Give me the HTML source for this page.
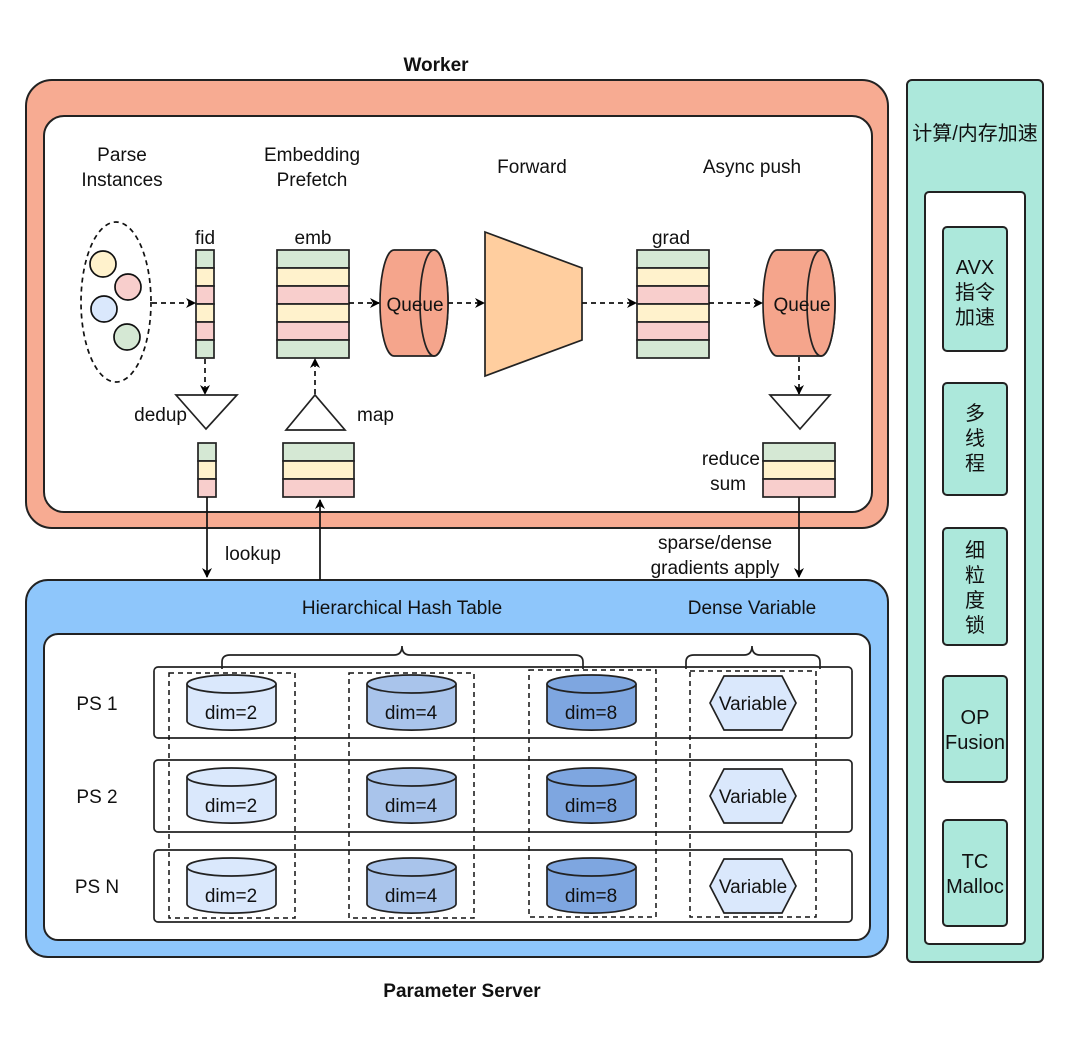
<!DOCTYPE html>
<html><head><meta charset="utf-8"><style>
html,body{margin:0;padding:0;background:#fff;}
svg{display:block;font-family:"Liberation Sans","Noto Sans CJK SC",sans-serif;}
text{font-size:19px;fill:#111;}
</style></head><body>
<svg width="1080" height="1045" viewBox="0 0 1080 1045" xmlns="http://www.w3.org/2000/svg">
<defs>
<marker id="ah" viewBox="0 0 10 10" refX="9" refY="5" markerWidth="10" markerHeight="10" markerUnits="userSpaceOnUse" orient="auto-start-reverse"><path d="M0,0 L10,5 L0,10 L3,5 z" fill="#000"/></marker>
</defs>
<text x="436" y="71" text-anchor="middle" font-weight="bold">Worker</text>
<rect x="26" y="80" width="862" height="448" rx="26" fill="#F7AB92" stroke="#222" stroke-width="2"/>
<rect x="44" y="116" width="828" height="396" rx="20" fill="#fff" stroke="#222" stroke-width="2"/>
<text x="122" y="161" text-anchor="middle">Parse</text>
<text x="122" y="186" text-anchor="middle">Instances</text>
<text x="312" y="161" text-anchor="middle">Embedding</text>
<text x="312" y="186" text-anchor="middle">Prefetch</text>
<text x="532" y="173" text-anchor="middle">Forward</text>
<text x="752" y="173" text-anchor="middle">Async push</text>

<ellipse cx="116" cy="302" rx="35" ry="80" fill="none" stroke="#111" stroke-width="1.7" stroke-dasharray="5,4"/>
<circle cx="103" cy="264" r="13" fill="#FFF2CC" stroke="#111" stroke-width="1.7"/>
<circle cx="128" cy="287" r="13" fill="#F8CECC" stroke="#111" stroke-width="1.7"/>
<circle cx="104" cy="309" r="13" fill="#DAE8FC" stroke="#111" stroke-width="1.7"/>
<circle cx="127" cy="337" r="13" fill="#D5E8D4" stroke="#111" stroke-width="1.7"/>

<text x="205" y="244" text-anchor="middle">fid</text>
<g stroke="#222" stroke-width="1.7">
<rect x="196" y="250" width="18" height="18" fill="#D5E8D4"/><rect x="196" y="268" width="18" height="18" fill="#FFF2CC"/><rect x="196" y="286" width="18" height="18" fill="#F8CECC"/><rect x="196" y="304" width="18" height="18" fill="#FFF2CC"/><rect x="196" y="322" width="18" height="18" fill="#F8CECC"/><rect x="196" y="340" width="18" height="18" fill="#D5E8D4"/>
</g>
<text x="313" y="244" text-anchor="middle">emb</text>
<g stroke="#222" stroke-width="1.7">
<rect x="277" y="250" width="72" height="18" fill="#D5E8D4"/><rect x="277" y="268" width="72" height="18" fill="#FFF2CC"/><rect x="277" y="286" width="72" height="18" fill="#F8CECC"/><rect x="277" y="304" width="72" height="18" fill="#FFF2CC"/><rect x="277" y="322" width="72" height="18" fill="#F8CECC"/><rect x="277" y="340" width="72" height="18" fill="#D5E8D4"/>
</g>
<text x="671" y="244" text-anchor="middle">grad</text>
<g stroke="#222" stroke-width="1.7">
<rect x="637" y="250" width="72" height="18" fill="#D5E8D4"/><rect x="637" y="268" width="72" height="18" fill="#FFF2CC"/><rect x="637" y="286" width="72" height="18" fill="#F8CECC"/><rect x="637" y="304" width="72" height="18" fill="#FFF2CC"/><rect x="637" y="322" width="72" height="18" fill="#F8CECC"/><rect x="637" y="340" width="72" height="18" fill="#D5E8D4"/>
</g>
<g stroke="#222" stroke-width="1.7" fill="#F5A58C">
<path d="M394,250 L434,250 A14,53 0 0 1 434,356 L394,356 A14,53 0 0 1 394,250 z"/>
<ellipse cx="434" cy="303" rx="14" ry="53"/>
<path d="M777,250 L821,250 A14,53 0 0 1 821,356 L777,356 A14,53 0 0 1 777,250 z"/>
<ellipse cx="821" cy="303" rx="14" ry="53"/>
</g>
<text x="415" y="311" text-anchor="middle">Queue</text>
<text x="802" y="311" text-anchor="middle">Queue</text>
<polygon points="485,232 582,268 582,340 485,376" fill="#FFCE9F" stroke="#222" stroke-width="1.7"/>
<g stroke="#111" stroke-width="1.7" stroke-dasharray="5,4" fill="none" marker-end="url(#ah)">
<line x1="152" y1="303" x2="195" y2="303"/>
<line x1="349" y1="303" x2="379" y2="303"/>
<line x1="448" y1="303" x2="484" y2="303"/>
<line x1="582" y1="303" x2="636" y2="303"/>
<line x1="709" y1="303" x2="762" y2="303"/>
<line x1="205" y1="359" x2="205" y2="394"/>
<line x1="315" y1="394" x2="315" y2="359"/>
<line x1="799" y1="357" x2="799" y2="394"/>
</g>
<g fill="#fff" stroke="#222" stroke-width="1.7">
<polygon points="176,395 237,395 206,429"/>
<polygon points="286,430 345,430 315,395"/>
<polygon points="770,395 830,395 800,429"/>
</g>
<text x="187" y="421" text-anchor="end">dedup</text>
<text x="357" y="421">map</text>
<g stroke="#222" stroke-width="1.7">
<rect x="198" y="443" width="18" height="18" fill="#D5E8D4"/><rect x="198" y="461" width="18" height="18" fill="#FFF2CC"/><rect x="198" y="479" width="18" height="18" fill="#F8CECC"/>
<rect x="283" y="443" width="71" height="18" fill="#D5E8D4"/><rect x="283" y="461" width="71" height="18" fill="#FFF2CC"/><rect x="283" y="479" width="71" height="18" fill="#F8CECC"/>
<rect x="763" y="443" width="72" height="18" fill="#D5E8D4"/><rect x="763" y="461" width="72" height="18" fill="#FFF2CC"/><rect x="763" y="479" width="72" height="18" fill="#F8CECC"/>
</g>
<text x="760" y="465" text-anchor="end">reduce</text>
<text x="746" y="490" text-anchor="end">sum</text>

<rect x="26" y="580" width="862" height="377" rx="22" fill="#8EC6FB" stroke="#222" stroke-width="2"/>
<rect x="44" y="634" width="826" height="306" rx="14" fill="#fff" stroke="#222" stroke-width="2"/>
<g stroke="#111" stroke-width="1.7" fill="none" marker-end="url(#ah)">
<line x1="207" y1="497" x2="207" y2="577"/>
<line x1="320" y1="580" x2="320" y2="500"/>
<line x1="799" y1="497" x2="799" y2="577"/>
</g>
<text x="225" y="560">lookup</text>
<text x="715" y="549" text-anchor="middle">sparse/dense</text>
<text x="715" y="574" text-anchor="middle">gradients apply</text>
<text x="402" y="614" text-anchor="middle">Hierarchical Hash Table</text>
<text x="752" y="614" text-anchor="middle">Dense Variable</text>
<g fill="none" stroke="#222" stroke-width="1.7">
<path d="M222,669 L222,662 Q222,655 230,655 L394,655 Q402,655 402,646 Q402,655 410,655 L575,655 Q583,655 583,662 L583,669"/>
<path d="M686,669 L686,662 Q686,655 694,655 L744,655 Q752,655 752,646 Q752,655 760,655 L812,655 Q820,655 820,662 L820,669"/>
</g>
<g fill="none" stroke="#222" stroke-width="1.7">
<rect x="154" y="667" width="698" height="71" rx="4"/>
<rect x="154" y="760" width="698" height="72" rx="4"/>
<rect x="154" y="850" width="698" height="72" rx="4"/>
</g>
<text x="97" y="710" text-anchor="middle">PS 1</text>
<text x="97" y="803" text-anchor="middle">PS 2</text>
<text x="97" y="893" text-anchor="middle">PS N</text>
<g fill="none" stroke="#111" stroke-width="1.5" stroke-dasharray="5,4">
<rect x="169" y="673" width="126" height="245"/>
<rect x="349" y="673" width="125" height="245"/>
<rect x="529" y="670" width="127" height="247"/>
<rect x="690" y="671" width="126" height="246"/>
</g>
<g stroke="#222" stroke-width="1.7">
<g id="cy">
<path d="M187,684 L187,721 A44,9 0 0 0 276,721 L276,684" fill="#DAE8FC"/><ellipse cx="231.5" cy="684" rx="44.5" ry="9" fill="#DAE8FC"/>
<path d="M367,684 L367,721 A44,9 0 0 0 456,721 L456,684" fill="#A9C4EB"/><ellipse cx="411.5" cy="684" rx="44.5" ry="9" fill="#A9C4EB"/>
<path d="M547,684 L547,721 A44,9 0 0 0 636,721 L636,684" fill="#7EA6E0"/><ellipse cx="591.5" cy="684" rx="44.5" ry="9" fill="#7EA6E0"/>
<polygon points="710,703 724,676 782,676 796,703 782,730 724,730" fill="#DAE8FC"/>
</g>
<use href="#cy" y="93"/>
<use href="#cy" y="183"/>
</g>
<g text-anchor="middle">
<text x="231" y="719">dim=2</text><text x="411" y="719">dim=4</text><text x="591" y="719">dim=8</text><text x="753" y="710">Variable</text>
<text x="231" y="812">dim=2</text><text x="411" y="812">dim=4</text><text x="591" y="812">dim=8</text><text x="753" y="803">Variable</text>
<text x="231" y="902">dim=2</text><text x="411" y="902">dim=4</text><text x="591" y="902">dim=8</text><text x="753" y="893">Variable</text>
</g>
<text x="462" y="997" text-anchor="middle" font-weight="bold">Parameter Server</text>

<rect x="907" y="80" width="136" height="882" rx="5" fill="#ACE8DB" stroke="#222" stroke-width="2"/>
<text x="975" y="140" text-anchor="middle" style="font-size:20px">计算/内存加速</text>
<rect x="925" y="192" width="100" height="752" rx="4" fill="#fff" stroke="#222" stroke-width="2"/>
<g fill="#ACE8DB" stroke="#222" stroke-width="2">
<rect x="943" y="227" width="64" height="124" rx="4"/>
<rect x="943" y="383" width="64" height="112" rx="4"/>
<rect x="943" y="528" width="64" height="117" rx="4"/>
<rect x="943" y="676" width="64" height="106" rx="4"/>
<rect x="943" y="820" width="64" height="106" rx="4"/>
</g>
<g text-anchor="middle">
<text x="975" y="274" style="font-size:20px">AVX</text><text x="975" y="299" style="font-size:20px">指令</text><text x="975" y="324" style="font-size:20px">加速</text>
<text x="975" y="420" style="font-size:20px">多</text><text x="975" y="445" style="font-size:20px">线</text><text x="975" y="470" style="font-size:20px">程</text>
<text x="975" y="557" style="font-size:20px">细</text><text x="975" y="582" style="font-size:20px">粒</text><text x="975" y="607" style="font-size:20px">度</text><text x="975" y="632" style="font-size:20px">锁</text>
<text x="975" y="724" style="font-size:20px">OP</text><text x="975" y="749" style="font-size:20px">Fusion</text>
<text x="975" y="868" style="font-size:20px">TC</text><text x="975" y="893" style="font-size:20px">Malloc</text>
</g>
</svg>
</body></html>
